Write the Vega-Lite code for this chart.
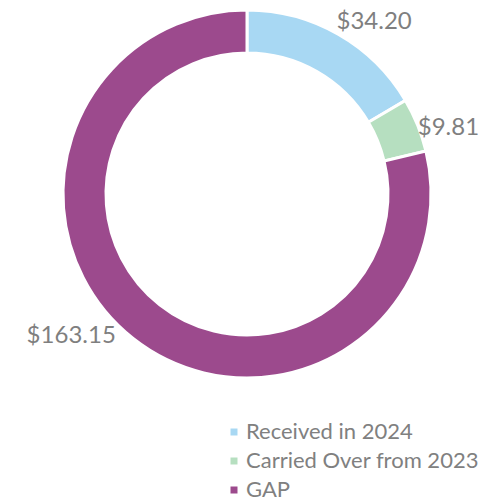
{
  "$schema": "https://vega.github.io/schema/vega-lite/v6.json",
  "width": 480,
  "height": 388,
  "autosize": {"type": "none"},
  "padding": {"left": 7, "top": 0, "right": 2, "bottom": 115},
  "background": "white",
  "view": {"stroke": null},
  "data": {"values": [
    {"cat": "Received in 2024", "value": 34.20, "ord": 1},
    {"cat": "Carried Over from 2023", "value": 9.81, "ord": 2},
    {"cat": "GAP", "value": 163.15, "ord": 3}
  ]},
  "encoding": {
    "theta": {"field": "value", "type": "quantitative", "stack": true},
    "order": {"field": "ord", "type": "quantitative"}
  },
  "layer": [
    {
      "mark": {"type": "arc", "outerRadius": 184, "innerRadius": 141, "stroke": "white", "strokeWidth": 3},
      "encoding": {
        "color": {
          "field": "cat", "type": "nominal",
          "sort": ["Received in 2024", "Carried Over from 2023", "GAP"],
          "scale": {"domain": ["Received in 2024", "Carried Over from 2023", "GAP"], "range": ["#A8D8F3", "#B6DFC0", "#9C4A8D"]},
          "legend": {
            "title": null, "orient": "none", "legendX": 216, "legendY": 421,
            "symbolType": "square", "symbolSize": 49, "symbolStrokeWidth": 0,
            "labelFont": "Lato", "labelFontSize": 22, "labelColor": "#808080",
            "rowPadding": 7, "labelOffset": 1, "padding": 0, "labelLimit": 400
          }
        }
      }
    },
    {
      "mark": {"type": "text", "radius": 200, "dx": 28, "dy": 2, "font": "Lato", "fontSize": 24, "color": "#7F7F7F", "align": "center", "baseline": "middle"},
      "encoding": {"text": {"condition": {"test": "datum.cat === 'Received in 2024'", "field": "value", "format": "$.2f"}, "value": ""}}
    },
    {
      "mark": {"type": "text", "radius": 200, "dx": 16, "dy": 9, "font": "Lato", "fontSize": 24, "color": "#7F7F7F", "align": "center", "baseline": "middle"},
      "encoding": {"text": {"condition": {"test": "datum.cat === 'Carried Over from 2023'", "field": "value", "format": "$.2f"}, "value": ""}}
    },
    {
      "mark": {"type": "text", "radius": 200, "dx": -52, "dy": -15, "font": "Lato", "fontSize": 24, "color": "#7F7F7F", "align": "center", "baseline": "middle"},
      "encoding": {"text": {"condition": {"test": "datum.cat === 'GAP'", "field": "value", "format": "$.2f"}, "value": ""}}
    }
  ]
}
